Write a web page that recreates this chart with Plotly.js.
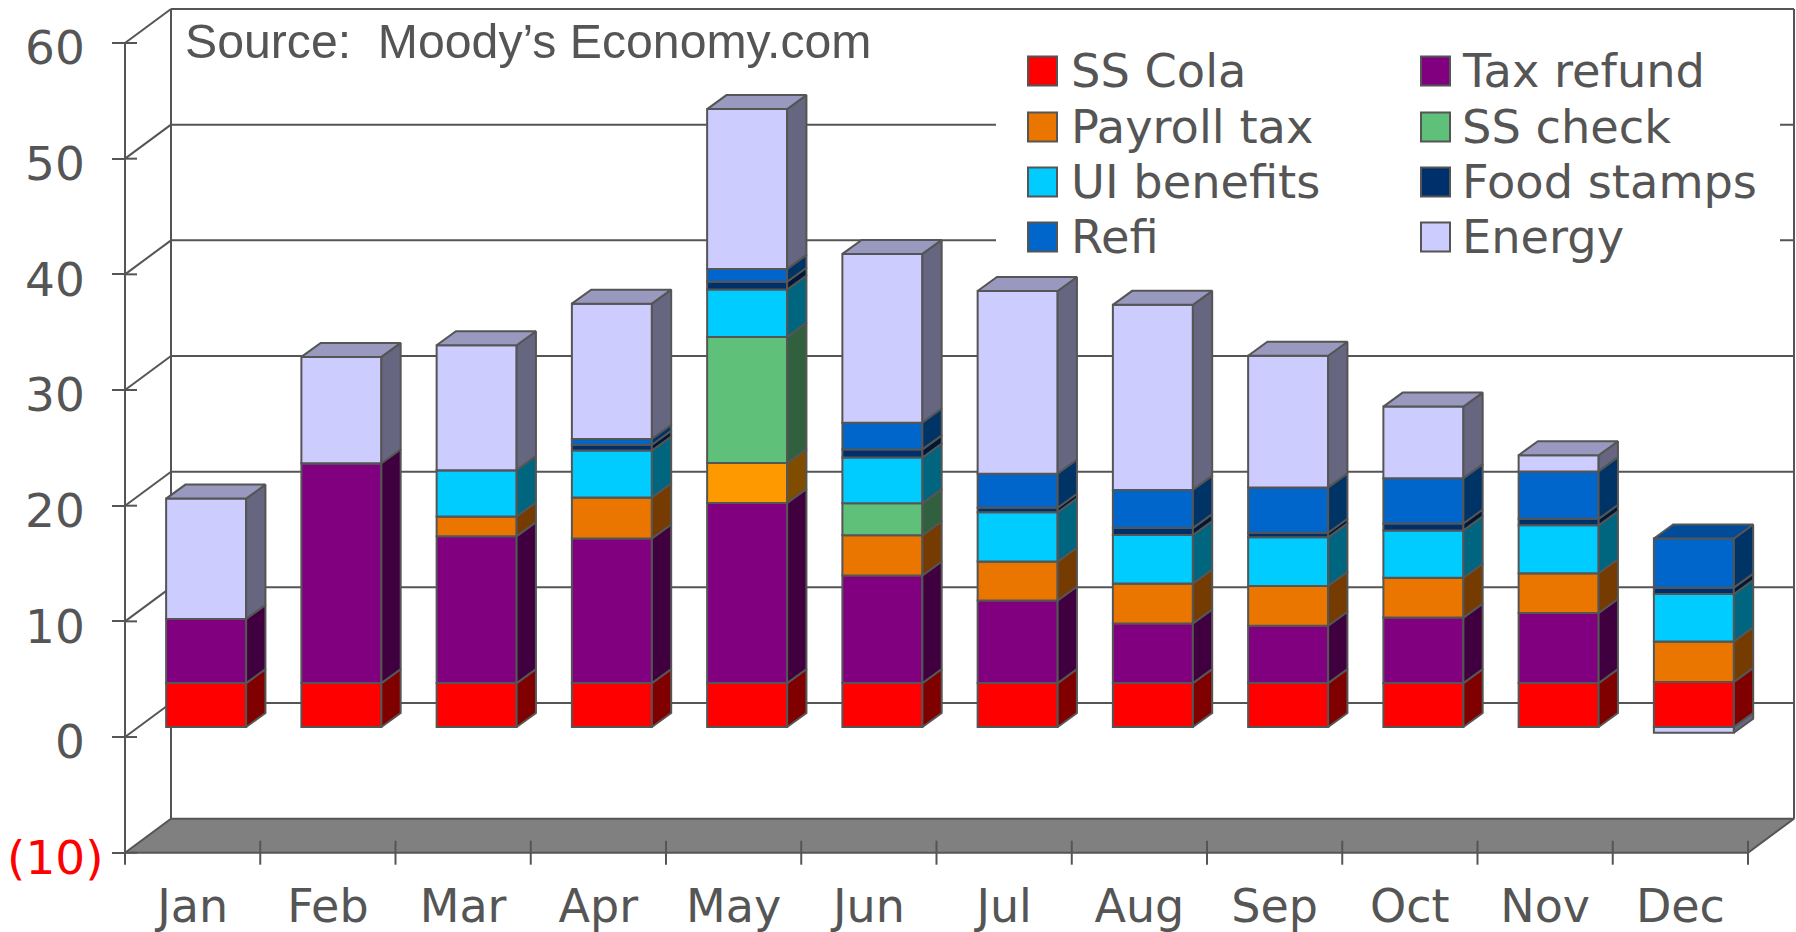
<!DOCTYPE html>
<html>
<head>
<meta charset="utf-8">
<script src="https://cdn.plot.ly/plotly-3.0.1.min.js"></script>
<style>html,body{margin:0;padding:0;background:#fff;overflow:hidden}#chart{width:1796px;height:932px}</style>
</head>
<body>
<div id="chart"></div>
<script>
// ---- data ----
const months = ["Jan","Feb","Mar","Apr","May","Jun","Jul","Aug","Sep","Oct","Nov","Dec"];
const ssCola     = [3.8,3.8,3.8,3.8,3.8,3.8,3.8,3.8,3.8,3.8,3.8,3.9];
const taxRefund  = [5.55,19.0,12.7,12.5,15.57,9.3,7.14,5.16,4.96,5.66,6.06,0];
const payrollTax = [0,0,1.7,3.55,3.45,3.47,3.36,3.44,3.44,3.44,3.44,3.5];
const ssCheck    = [0,0,0,0,10.9,2.77,0,0,0,0,0,0];
const uiBenefits = [0,0,4.0,4.05,4.1,3.96,4.26,4.2,4.2,4.1,4.14,4.1];
const foodStamps = [0,0,0,0.5,0.67,0.7,0.4,0.6,0.4,0.6,0.56,0.55];
const refi       = [0,0,0,0.5,1.1,2.3,2.94,3.3,3.9,3.9,4.1,4.25];
const energy     = [10.4,9.2,10.8,11.7,13.83,14.6,15.8,16.0,11.4,6.2,1.4,-0.5];
const yTicks = [-10,0,10,20,30,40,50,60];
const sourceText = "Source:  Moody\u2019s Economy.com";

// ---- style ----
const INK = "#555555", FONT = "'DejaVu Sans', Verdana, sans-serif";
const W = 1796, H = 932;
const L = 125, R = 1748, T = 43, B = 852.7;
const pxX = (B - T) / 70, pxM = (R - L) / 12;
const dx = 46 / pxM, dy = 34 / pxX;                  // depth of the box
const shiftX = 13.5 / pxM, shiftY = 10 / pxX;        // bar front plane inside the box
const barW = 80 / pxM, bdx = 19.3 / pxM, bdy = 14 / pxX; // bar width and depth

const series = [
  {name:"SS Cola",     v:ssCola,     c:"#FF0000", s:"#800000", t:"#BF0000"},
  {name:"Tax refund",  v:taxRefund,  c:"#800080", s:"#400040", t:"#600060"},
  {name:"Payroll tax", v:payrollTax, c:"#EA7600", s:"#753B00", t:"#B05900"},
  {name:"SS check",    v:ssCheck,    c:"#5FC07A", s:"#30603D", t:"#47905C"},
  {name:"UI benefits", v:uiBenefits, c:"#00CCFF", s:"#006680", t:"#0099BF"},
  {name:"Food stamps", v:foodStamps, c:"#00306B", s:"#001836", t:"#002450"},
  {name:"Refi",        v:refi,       c:"#0066CC", s:"#003366", t:"#004C99"},
  {name:"Energy",      v:energy,     c:"#CCCCFF", s:"#666680", t:"#9999BF"}
];
const mayIndex = months.indexOf("May");
const mayPayroll = {c:"#FF9900", s:"#804D00"};
const centers = months.map((m,i)=>i+0.5);

const traces = [];
function poly(xs, ys, fill, width, axes){
  const t = {type:"scatter", mode:"lines", x:xs, y:ys, line:{color:INK, width:width},
    hoverinfo:"skip", showlegend:false};
  if(fill){ t.fill = "toself"; t.fillcolor = fill; }
  if(axes){ t.xaxis = "x2"; t.yaxis = "y2"; }
  traces.push(t);
}

// floor
poly([0,12,12+dx,dx,0],[-10,-10,-10+dy,-10+dy,-10],"#808080",2);

// back wall and side wall lines
const wx=[], wy=[];
function seg(x0,y0,x1,y1){ wx.push(x0,x1,null); wy.push(y0,y1,null); }
seg(dx,-10+dy,dx,60+dy);
seg(dx,60+dy,12+dx,60+dy);
seg(12+dx,60+dy,12+dx,-10+dy);
yTicks.forEach(v=>{
  if(v>-10){ seg(0,v,dx,v+dy); }
  if(v>-10 && v<60){ seg(dx,v+dy,12+dx,v+dy); }
  seg(0,v,12/pxM,v);              // inner half of the axis tick
});
poly(wx,wy,null,2);

// white panel behind the key
const boxX=[996,1780,1780,996,996].map(p=>(p-L)/pxM);
const boxY=[40,40,265,265,40].map(p=>(B-p)/pxX-10);
traces.push({type:"scatter",mode:"lines",x:boxX,y:boxY,fill:"toself",fillcolor:"#ffffff",
  line:{width:0,color:"#ffffff"},hoverinfo:"skip",showlegend:false});

// front axis lines and month boundary ticks
const tx=[0,0,null], ty=[-10-12/pxX,60,null];
for(let k=1;k<=12;k++){ tx.push(k,k,null); ty.push(-10+12/pxX,-10-12/pxX,null); }
poly(tx,ty,null,2);

// stacked bars: front faces
series.forEach((s,si)=>{
  traces.push({type:"bar", name:s.name, x:centers, y:s.v, xaxis:"x2", yaxis:"y2",
    width:barW, hovertemplate:s.name+": %{y}<extra></extra>", showlegend:false,
    marker:{color:s.v.map((_,i)=> s.name==="Payroll tax"&&i===mayIndex ? mayPayroll.c : s.c),
            line:{color:INK,width:2}}});
});

// stacked bars: side and top faces, computed from the stacked values
const sideByColor = {}, topByColor = {};
function push(map,color,pts){
  if(!map[color]) map[color]={x:[],y:[]};
  pts.forEach(p=>{map[color].x.push(p[0]);map[color].y.push(p[1]);});
  map[color].x.push(null);map[color].y.push(null);
}
months.forEach((m,i)=>{
  let up=0, down=0, top=null;
  const right=centers[i]+barW/2, left=centers[i]-barW/2;
  series.forEach(s=>{
    const v=s.v[i];
    if(!v) return;
    let y0,y1;
    if(v>0){ y0=up; y1=up+v; up=y1; top=s; } else { y0=down+v; y1=down; down=y0; }
    const side = (s.name==="Payroll tax"&&i===mayIndex) ? mayPayroll.s : s.s;
    push(sideByColor,side,[[right,y0],[right+bdx,y0+bdy],[right+bdx,y1+bdy],[right,y1],[right,y0]]);
  });
  push(topByColor,top.t,[[left,up],[right,up],[right+bdx,up+bdy],[left+bdx,up+bdy],[left,up]]);
});
Object.keys(sideByColor).forEach(c=>poly(sideByColor[c].x,sideByColor[c].y,c,2,true));
Object.keys(topByColor).forEach(c=>poly(topByColor[c].x,topByColor[c].y,c,2,true));

// key
const keyCols=[{sw:1028,tx:1069},{sw:1421,tx:1460}], keyRows=[71,127,182,237];
const px2x=p=>p/W, px2y=p=>1-p/H;
const shapes=[], annotations=[];
series.forEach((s,i)=>{
  const col=keyCols[i%2], row=keyRows[Math.floor(i/2)];
  shapes.push({type:"rect",xref:"paper",yref:"paper",layer:"above",
    x0:px2x(col.sw),x1:px2x(col.sw+29),y0:px2y(row-14.5),y1:px2y(row+14.5),
    fillcolor:s.c,line:{color:INK,width:2}});
  annotations.push({xref:"paper",yref:"paper",x:px2x(col.tx),y:px2y(row),xanchor:"left",yanchor:"middle",
    showarrow:false,text:s.name,font:{family:FONT,size:46.3,color:INK}});
});
annotations.push({xref:"paper",yref:"paper",x:px2x(182.5),y:px2y(40.5),xanchor:"left",yanchor:"middle",
  showarrow:false,text:sourceText,font:{family:"'Liberation Sans', Arial, sans-serif",size:48.2,color:INK}});

const pad="\u2009\u2009";
const xRange=[-L/pxM,(W-L)/pxM], yRange=[-10-(H-B)/pxX,-10+B/pxX];
const layout={
  width:W,height:H,paper_bgcolor:"#fff",plot_bgcolor:"rgba(0,0,0,0)",
  margin:{l:0,r:0,t:0,b:0,pad:0},
  showlegend:false,barmode:"relative",
  xaxis:{type:"linear",range:xRange,anchor:"free",position:(H-B)/H,tickmode:"array",tickvals:centers,ticktext:months,
    ticks:"",showgrid:false,zeroline:false,showline:false,
    tickfont:{family:FONT,size:46,color:INK},ticklabelstandoff:22},
  yaxis:{type:"linear",range:yRange,anchor:"free",position:L/W,tickmode:"array",tickvals:yTicks,
    ticktext:yTicks.map(v=>v<0?'<span style="color:#FF0000">('+Math.abs(v)+')</span>':v+pad),
    ticks:"outside",ticklen:13,tickwidth:2,tickcolor:INK,showgrid:false,zeroline:false,
    showline:false,tickfont:{family:FONT,size:47,color:INK},ticklabelstandoff:-1,ticklabelshift:5},
  xaxis2:{type:"linear",overlaying:"x",range:[xRange[0]-shiftX,xRange[1]-shiftX],visible:false,fixedrange:true},
  yaxis2:{type:"linear",overlaying:"y",range:[yRange[0]-shiftY,yRange[1]-shiftY],visible:false,fixedrange:true},
  shapes:shapes,annotations:annotations
};
Plotly.newPlot("chart",traces,layout,{displayModeBar:false,staticPlot:true});
</script>
</body>
</html>
